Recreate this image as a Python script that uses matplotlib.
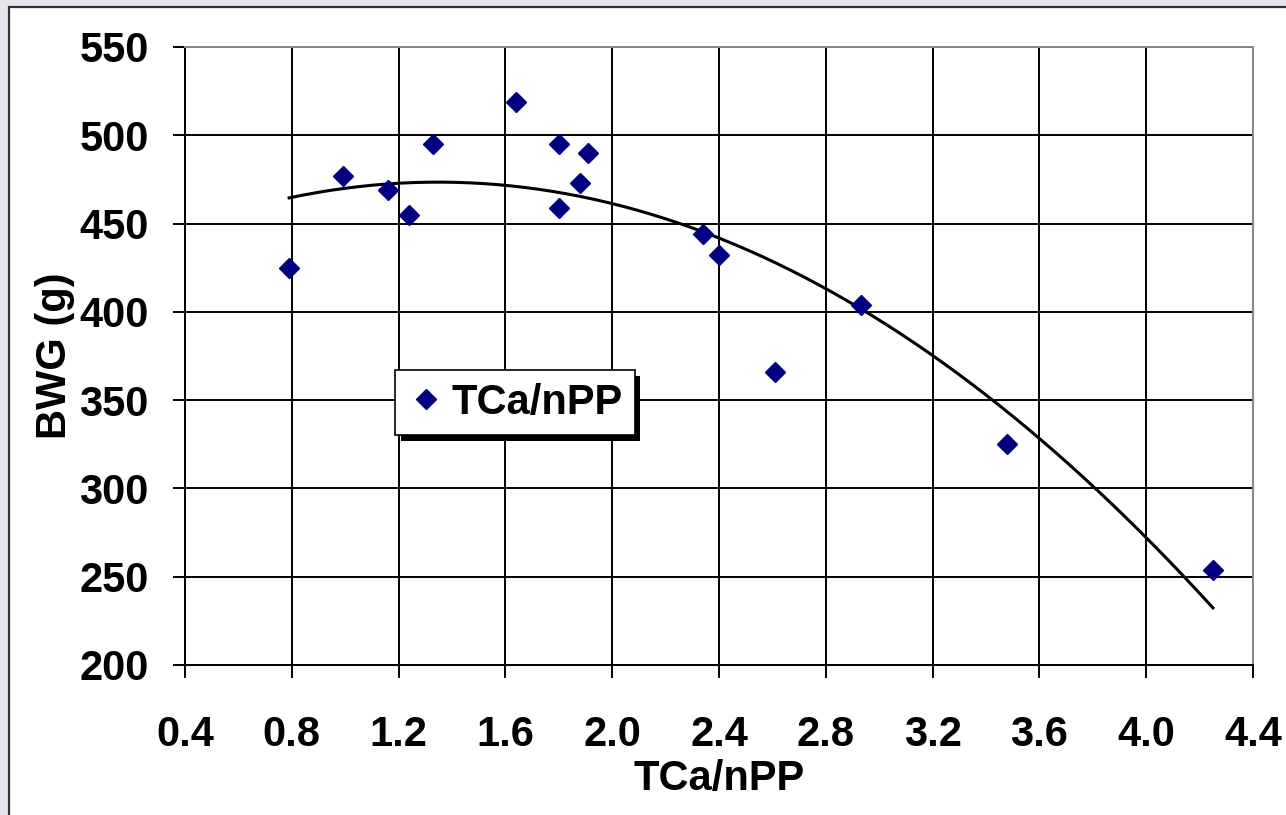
import numpy as np
import matplotlib
matplotlib.use("Agg")
from matplotlib import pyplot as plt
from matplotlib.patches import Rectangle
import matplotlib.patheffects as pe

# data
tca_npp = [0.79, 0.99, 1.16, 1.24, 1.33, 1.64, 1.80, 1.80, 1.88, 1.91,
           2.34, 2.40, 2.61, 2.93, 3.48, 4.25]
bwg = [425, 477, 469, 455, 495, 519, 495, 459, 473, 490,
       444, 432, 366, 404, 325, 254]
x_ticks = [0.4, 0.8, 1.2, 1.6, 2.0, 2.4, 2.8, 3.2, 3.6, 4.0, 4.4]
y_ticks = [200, 250, 300, 350, 400, 450, 500, 550]

plt.rcParams['font.family'] = ['Liberation Sans', 'DejaVu Sans']
plt.rcParams['font.weight'] = 'bold'

fig = plt.figure(figsize=(12.86, 8.15), dpi=100)
fig.patch.set_facecolor('#e8e4ee')

# white chart area with dark frame (cut off at right and bottom)
fig.patches.append(Rectangle((9 / 1286, -0.05), 1.1, (815 - 7) / 815 + 0.05,
                             transform=fig.transFigure, facecolor='white',
                             edgecolor='#333333', linewidth=1.6, zorder=-10))

ax = fig.add_axes([185 / 1286, 150 / 815, 1068 / 1286, 618 / 815])
ax.set_facecolor('white')

# 2nd order polynomial trend line, like excel
coef = np.polyfit(tca_npp, bwg, 2)
xs = np.linspace(min(tca_npp), max(tca_npp), 200)
ax.plot(xs, np.polyval(coef, xs), color='black', linewidth=2.2, zorder=3)

ax.plot(tca_npp, bwg, linestyle='none', marker='D', markersize=10.5,
        color='#000080', label='TCa/nPP', zorder=4)

ax.set_xlim(0.4, 4.4)
ax.set_ylim(200, 550)
ax.set_xticks(x_ticks)
ax.set_yticks(y_ticks)
ax.set_xticklabels(['%.1f' % v for v in x_ticks])
ax.grid(True, color='black', linewidth=1.4)
ax.set_axisbelow(True)

for side in ['top', 'right']:
    ax.spines[side].set_color('#888888')
    ax.spines[side].set_linewidth(1.4)
for side in ['left', 'bottom']:
    ax.spines[side].set_color('black')
    ax.spines[side].set_linewidth(1.4)

ax.tick_params(axis='both', direction='out', length=9, width=1.4,
               labelsize=30, color='black')
ax.tick_params(axis='x', pad=27)
ax.tick_params(axis='y', pad=17)

ax.set_xlabel('TCa/nPP', fontsize=30, fontweight='bold', labelpad=3)
ax.set_ylabel('BWG (g)', fontsize=30, fontweight='bold', labelpad=3)

leg = ax.legend(loc='upper left', bbox_to_anchor=(210 / 1068, (665 - 370) / 618),
                fontsize=30, frameon=True, fancybox=False, handletextpad=0.15,
                borderpad=0.3, handlelength=0.9, borderaxespad=0)
frame = leg.get_frame()
frame.set_edgecolor('black')
frame.set_linewidth(1.2)
frame.set_alpha(1)
frame.set_path_effects([pe.SimplePatchShadow(offset=(4, -4), shadow_rgbFace='black', alpha=1),
                        pe.Normal()])

fig.savefig('out.png', dpi=100, facecolor=fig.get_facecolor())
